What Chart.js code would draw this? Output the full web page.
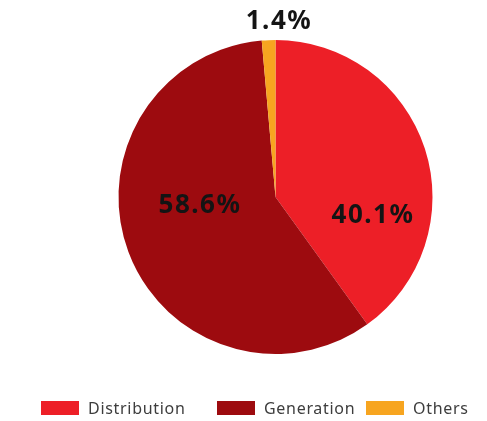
<!DOCTYPE html>
<html>
<head>
<meta charset="utf-8">
<script src="https://cdn.jsdelivr.net/npm/chart.js@4"></script>
<style>
  html, body { margin: 0; padding: 0; background: #fff; }
  #wrap { position: relative; width: 487px; height: 421px; }
  #legend {
    position: absolute; left: 41px; top: 401px;
    display: flex; align-items: center;
    font-family: "Noto Sans", sans-serif; font-size: 16px; color: #3d3d3d;
    letter-spacing: 0.7px;
  }
  #legend .item { display: flex; align-items: center; }
  #legend .item:nth-child(1) { width: 176px; }
  #legend .item:nth-child(2) { width: 149px; }
  #legend .box { width: 38px; height: 14px; margin-right: 9px; flex: none; }
  #legend .text { line-height: 14px; white-space: nowrap; }
</style>
</head>
<body>
<div id="wrap">
  <canvas id="pieChart" width="487" height="421"></canvas>
  <div id="legend"></div>
</div>
<script>
const segments = ["Distribution", "Generation", "Others"];
const shares = [40.1, 58.6, 1.4];
const sliceColors = ["#ED1F27", "#9D0B0F", "#F7A520"];

// where each percentage sits: [angle in degrees, fraction of radius] from the pie centre
const labelSpots = [[10.0, 0.624], [175.1, 0.489], [-89.2, 1.131]];

const pctLabels = {
  id: "pctLabels",
  afterDatasetsDraw(chart) {
    const { ctx } = chart;
    const arcs = chart.getDatasetMeta(0).data;
    const size = 26;
    ctx.save();
    ctx.font = `700 ${size}px "Noto Sans", sans-serif`;
    ctx.fillStyle = "#141414";
    ctx.textAlign = "center";
    ctx.textBaseline = "alphabetic";
    ctx.letterSpacing = "1.5px";
    arcs.forEach((arc, i) => {
      const [deg, frac] = labelSpots[i];
      const a = (deg * Math.PI) / 180;
      const x = arc.x + Math.cos(a) * arc.outerRadius * frac;
      const y = arc.y + Math.sin(a) * arc.outerRadius * frac;
      ctx.fillText(`${shares[i]}%`, x + 1, y + size * 0.355);
    });
    ctx.restore();
  },
};

new Chart(document.getElementById("pieChart"), {
  type: "pie",
  data: {
    labels: segments,
    datasets: [
      {
        data: shares,
        backgroundColor: sliceColors,
        borderWidth: 0,
      },
    ],
  },
  options: {
    responsive: false,
    animation: false,
    layout: { padding: { top: 40, bottom: 67, left: 100, right: 36 } },
    plugins: {
      legend: { display: false },
      tooltip: { enabled: false },
    },
  },
  plugins: [pctLabels],
});

// legend row under the pie
const legendEl = document.getElementById("legend");
segments.forEach((name, i) => {
  const item = document.createElement("div");
  item.className = "item";
  item.innerHTML = `<span class="box" style="background:${sliceColors[i]}"></span><span class="text">${name}</span>`;
  legendEl.appendChild(item);
});
</script>
</body>
</html>
